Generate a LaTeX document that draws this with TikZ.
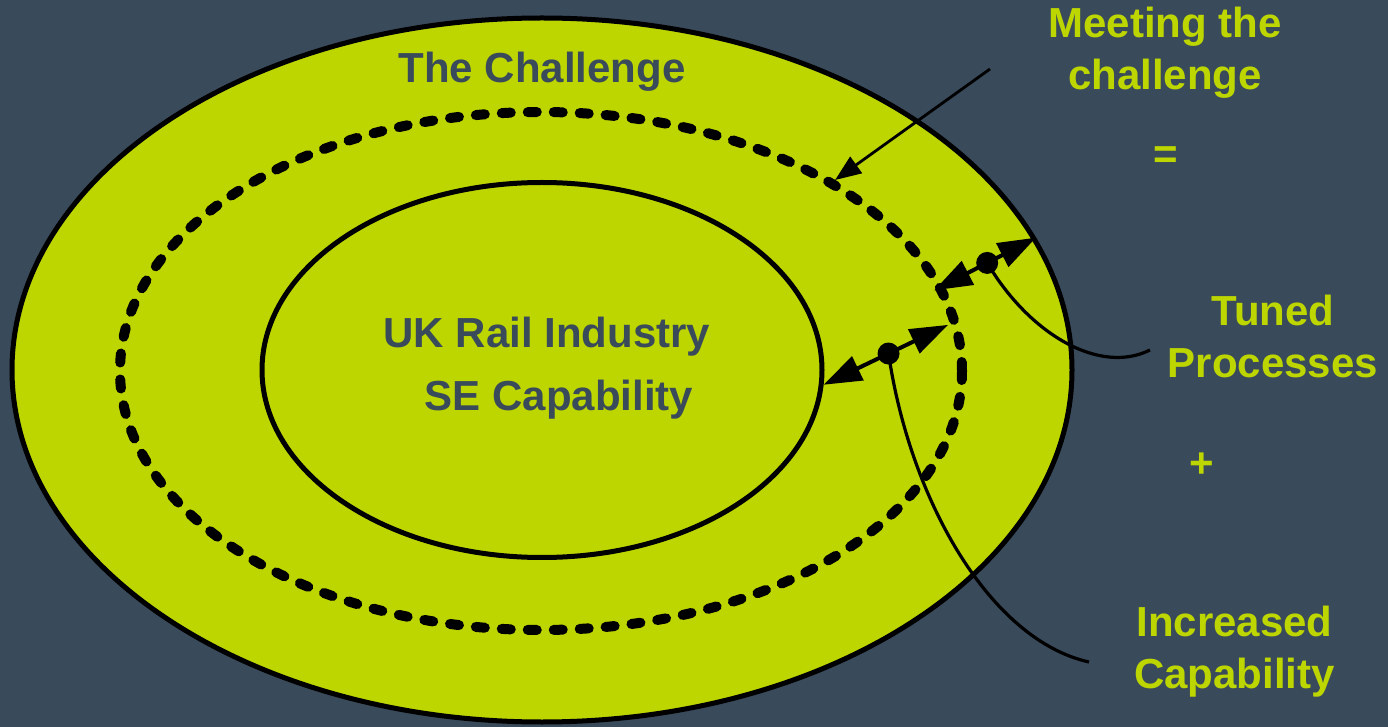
\documentclass[tikz,border=0pt]{standalone}
\usepackage{fontspec}
\setmainfont{Liberation Sans}
\usetikzlibrary{arrows.meta}
\usetikzlibrary{shapes.geometric}
\definecolor{slate}{RGB}{57,74,90}
\definecolor{lime}{RGB}{190,214,0}

\begin{document}
\begin{tikzpicture}[
    x=0.5pt, y=-0.5pt,
    band/.style={ellipse, draw=black, inner sep=0, line width=2.5pt},
    dashband/.style={band, line width=5pt, line cap=round, dash pattern=on 4.5pt off 8.5pt},
    sidetext/.style={font=\fontsize{21}{26}\selectfont\bfseries, text=lime, align=center, anchor=base, inner sep=0},
    intext/.style={sidetext, text=slate},
    span/.style={line width=2pt, {Triangle[length=19pt, width=13pt]}-{Triangle[length=19pt, width=13pt]}},
    knob/.style={circle, fill=black, inner sep=0, minimum size=11pt},
    leader/.style={line width=1.6pt},
    ]

    \useasboundingbox [fill=slate] (0,0) rectangle (1388,727);

    \node (outer) [band, fill=lime, minimum width=530pt, minimum height=352pt] at (542,370) {};
    \node (ring) [dashband, minimum width=421pt, minimum height=259pt] at (541,371) {};
    \node (core) [band, minimum width=280pt, minimum height=187.5pt] at (542,370) {};

    \node (challenge) [intext] at (542,83) {The Challenge};
    \node (capability) [intext, font=\fontsize{21}{31.5}\selectfont\bfseries] at (547,410)
        {UK Rail Industry\\\hspace*{12pt}SE Capability};

    \node (meeting) [sidetext] at (1165,90) {Meeting the\\challenge};
    \node (equals) [sidetext] at (1166,169) {=};
    \node (tuned) [sidetext] at (1273,378) {Tuned\\Processes};
    \node (plus) [sidetext] at (1202,478) {+};
    \node (increased) [sidetext] at (1234.5,688) {Increased\\Capability};

    \coordinate (meet-tail) at (990,69);
    \draw [line width=1.4pt, -{Triangle[length=13pt, width=10pt]}] (meet-tail) -- (ring.33);

    \draw [span, shorten <=-5.5pt] (ring.12) -- (outer.15) node (tune-knob) [knob, pos=0.47] {};
    \draw [span, shorten >=6pt] (core.-3) -- (ring.7) node (gain-knob) [knob, pos=0.48] {};

    \coordinate (tune-end) at (1150,350);
    \coordinate (gain-end) at (1089,662);
    \draw [leader] (tune-knob.center) .. controls (1030,335) and (1100,375) .. (tune-end);
    \draw [leader] (gain-knob.center) .. controls (910,500) and (990,640) .. (gain-end);
\end{tikzpicture}
\end{document}
